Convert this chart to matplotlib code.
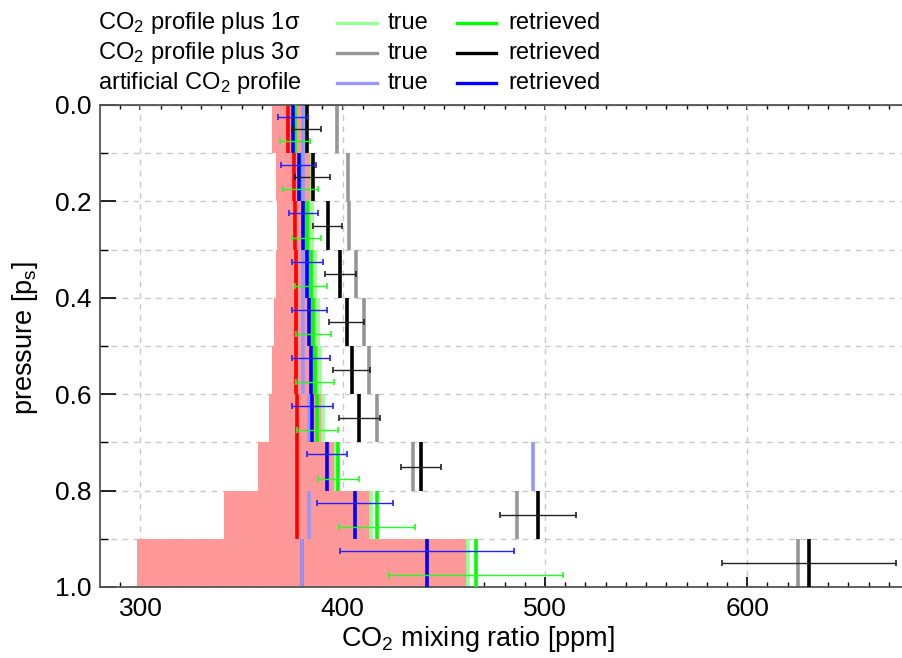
import matplotlib
matplotlib.use('Agg')
import matplotlib.pyplot as plt
from matplotlib.lines import Line2D
import numpy as np

plt.rcParams['font.family'] = ['Liberation Sans', 'DejaVu Sans']
plt.rcParams['mathtext.fontset'] = 'custom'
plt.rcParams['mathtext.rm'] = 'Liberation Sans'
plt.rcParams['mathtext.it'] = 'Liberation Sans:italic'

# pressure levels (top of each layer, in units of surface pressure)
p_top = np.array([0.0, 0.1, 0.2, 0.3, 0.4, 0.5, 0.6, 0.7, 0.8, 0.9])
dp = 0.1

# a priori mean profile and its +-1 sigma band
apriori = [372.9, 375.7, 376.3, 376.7, 377.0, 377.0, 377.3, 377.3, 377.5, 380.0]
band_lo = [365.0, 366.8, 367.6, 366.8, 365.8, 365.0, 363.8, 358.1, 341.2, 298.2]
band_hi = [381.0, 384.8, 385.2, 386.8, 388.2, 389.0, 390.5, 396.5, 413.8, 461.8]

# profile plus 1 sigma
true_1s = [381.0, 384.8, 385.0, 386.4, 387.7, 388.8, 390.1, 396.5, 413.8, 461.9]
retr_1s = [376.5, 379.0, 382.1, 384.4, 385.4, 386.3, 387.5, 397.9, 417.0, 466.0]
# profile plus 3 sigma
true_3s = [397.0, 402.7, 402.9, 406.8, 410.4, 413.2, 416.8, 434.8, 486.4, 625.3]
retr_3s = [382.1, 385.2, 392.6, 398.9, 402.0, 404.4, 408.1, 438.7, 496.6, 630.6]
# artificial profile
true_art = [380.3, 380.3, 380.3, 380.3, 380.3, 380.3, 383.4, 494.0, 383.4, 380.0]
retr_art = [375.3, 378.3, 380.6, 382.5, 383.4, 384.2, 384.9, 392.1, 405.9, 441.5]

# retrieval error (1 sigma)
retr_err = [7.4, 8.6, 7.2, 7.8, 8.6, 9.3, 10.1, 10.0, 18.8, 43.0]

c_lgreen = '#96ff96'
c_green = '#00ff00'
c_gray = '#969696'
c_black = '#000000'
c_lblue = '#9696ff'
c_blue = '#0000ff'

fig = plt.figure(figsize=(9.03, 6.58), dpi=100)
ax = fig.add_axes([100/903, 1-587/658, 803/903, 482/658])

p_bot = p_top + dp
lw = 2.6

ax.barh(p_top + dp/2, np.array(band_hi) - np.array(band_lo), left=band_lo,
        height=dp, color='#ff9999', zorder=1)
ax.vlines(apriori, p_top, p_bot, colors='#ff0000', lw=lw, zorder=2)
ax.vlines(true_1s, p_top, p_bot, colors=c_lgreen, lw=lw, zorder=2)
ax.vlines(true_3s, p_top, p_bot, colors=c_gray, lw=lw, zorder=2)
ax.vlines(true_art, p_top, p_bot, colors=c_lblue, lw=lw, zorder=2)
ax.vlines(retr_1s, p_top, p_bot, colors=c_green, lw=lw, zorder=3)
ax.vlines(retr_3s, p_top, p_bot, colors=c_black, lw=lw, zorder=3)
ax.vlines(retr_art, p_top, p_bot, colors=c_blue, lw=lw, zorder=3)

ax.errorbar(retr_art, p_top + 0.025, xerr=retr_err, fmt='none', ecolor='#2020ff',
            elinewidth=1, capsize=2, capthick=1.2, zorder=4)
ax.errorbar(retr_3s, p_top + 0.05, xerr=retr_err, fmt='none', ecolor='#222222',
            elinewidth=1, capsize=2, capthick=1.2, zorder=4)
ax.errorbar(retr_1s, p_top + 0.075, xerr=retr_err, fmt='none', ecolor='#20ff20',
            elinewidth=1, capsize=2, capthick=1.2, zorder=4)

ax.set_xlim(280, 677)
ax.set_ylim(1.0, 0.0)
ax.set_xticks([300, 400, 500, 600])
ax.set_xticks(np.arange(290, 680, 10), minor=True)
ax.set_yticks([0.0, 0.2, 0.4, 0.6, 0.8, 1.0])
ax.set_yticks([0.1, 0.3, 0.5, 0.7, 0.9], minor=True)
ax.yaxis.set_major_formatter(matplotlib.ticker.FormatStrFormatter('%.1f'))

ax.grid(True, which='major', axis='x', color='#c8c8c8', ls=(0, (4, 4)), lw=1)
ax.grid(True, which='both', axis='y', color='#c8c8c8', ls=(0, (4, 4)), lw=1)
ax.set_axisbelow(True)

for s in ['left', 'bottom', 'top']:
    ax.spines[s].set_color('#555555')
    ax.spines[s].set_linewidth(1.3)
ax.spines['right'].set_visible(False)

ax.tick_params(axis='x', which='major', direction='in', length=7, width=1.2,
               labelsize=19, pad=7, top=False)
ax.tick_params(axis='x', which='minor', direction='in', length=3.6, width=1, top=False)
ax.tick_params(axis='y', which='major', direction='in', length=11.5, width=1.2,
               labelsize=19, pad=6, right=False)
ax.tick_params(axis='y', which='minor', direction='in', length=5.8, width=1, right=False)

sec = ax.secondary_xaxis('top')
sec.set_xticks([300, 400, 500, 600])
sec.set_xticks(np.arange(290, 680, 10), minor=True)
sec.tick_params(which='major', direction='in', length=3.6, width=1.2, labeltop=False)
sec.tick_params(which='minor', direction='in', length=3, width=1)
sec.spines['top'].set_color('#555555')

ax.set_xlabel('CO$_2$ mixing ratio [ppm]', fontsize=19.5)
ax.xaxis.set_label_coords((478 - 100) / 803, (587 - 624) / 482)
ax.set_ylabel('pressure [p$_\\mathrm{s}$]', fontsize=19.5)
ax.yaxis.set_label_coords((40 - 100) / 803, (587 - 338) / 482)

# legend drawn by hand above the axes
rows = ['CO$_2$ profile plus 1σ', 'CO$_2$ profile plus 3σ', 'artificial CO$_2$ profile']
true_cols = [c_lgreen, c_gray, c_lblue]
retr_cols = [c_green, c_black, c_blue]
row_y = [23, 53, 83]
W, H = 903.0, 658.0
for name, ct, cr, y in zip(rows, true_cols, retr_cols, row_y):
    fy = 1 - y / H
    fig.text(98 / W, fy, name, fontsize=17, va='center', ha='left')
    fig.add_artist(Line2D([337 / W, 377 / W], [fy, fy], color=ct, lw=2.4,
                          transform=fig.transFigure))
    fig.text(388 / W, fy, 'true', fontsize=17, va='center', ha='left')
    fig.add_artist(Line2D([457 / W, 496 / W], [fy, fy], color=cr, lw=2.4,
                          transform=fig.transFigure))
    fig.text(508 / W, fy, 'retrieved', fontsize=17, va='center', ha='left')

fig.savefig('out.png', dpi=100)
